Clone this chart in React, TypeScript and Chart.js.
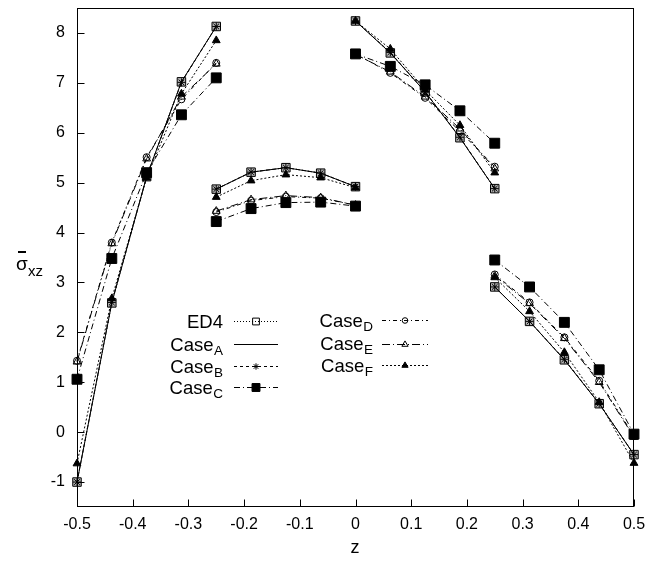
import React, { useEffect, useRef } from 'react';
import { Chart, registerables } from 'chart.js';

Chart.register(...registerables);

// z positions: four layers of five points each
const zValues = [
  -0.5, -0.4375, -0.375, -0.3125, -0.25,
  -0.25, -0.1875, -0.125, -0.0625, 0,
  0, 0.0625, 0.125, 0.1875, 0.25,
  0.25, 0.3125, 0.375, 0.4375, 0.5,
];
const layerSize = 5;

const ed4Values = [
  -1.0, 2.59, 5.12, 7.02, 8.13,
  4.87, 5.21, 5.30, 5.19, 4.92,
  8.24, 7.60, 6.82, 5.90, 4.88,
  2.91, 2.22, 1.45, 0.57, -0.45,
];
const caseAValues = [
  -1.0, 2.59, 5.12, 7.02, 8.13,
  4.87, 5.21, 5.30, 5.19, 4.92,
  8.24, 7.60, 6.82, 5.90, 4.88,
  2.91, 2.22, 1.45, 0.57, -0.45,
];
const caseBValues = [
  -1.0, 2.60, 5.12, 7.01, 8.13,
  4.87, 5.21, 5.30, 5.19, 4.92,
  8.24, 7.61, 6.82, 5.91, 4.88,
  2.91, 2.22, 1.46, 0.57, -0.45,
];
const caseCValues = [
  1.06, 3.48, 5.20, 6.36, 7.10,
  4.22, 4.48, 4.60, 4.61, 4.53,
  7.58, 7.33, 6.96, 6.44, 5.79,
  3.45, 2.91, 2.20, 1.25, -0.04,
];
const caseDValues = [
  1.43, 3.80, 5.51, 6.67, 7.40,
  4.41, 4.64, 4.72, 4.69, 4.55,
  7.58, 7.20, 6.70, 6.03, 5.32,
  3.16, 2.60, 1.90, 1.03, -0.08,
];
const caseEValues = [
  1.41, 3.78, 5.48, 6.72, 7.38,
  4.43, 4.66, 4.74, 4.70, 4.55,
  7.57, 7.22, 6.72, 6.08, 5.28,
  3.13, 2.58, 1.88, 1.00, -0.10,
];
const caseFValues = [
  -0.63, 2.68, 5.10, 6.78, 7.85,
  4.71, 5.04, 5.16, 5.10, 4.90,
  8.24, 7.68, 6.86, 6.15, 5.20,
  3.10, 2.42, 1.60, 0.60, -0.62,
];

const seriesNames = ['ED4', 'Case', 'Case', 'Case', 'Case', 'Case', 'Case'];
const seriesSubs = ['', 'A', 'B', 'C', 'D', 'E', 'F'];

const xTickValues = [-0.5, -0.4, -0.3, -0.2, -0.1, 0, 0.1, 0.2, 0.3, 0.4, 0.5];
const xTickLabels = ['-0.5', '-0.4', '-0.3', '-0.2', '-0.1', '0', '0.1', '0.2', '0.3', '0.4', '0.5'];
const yTickValues = [-1, 0, 1, 2, 3, 4, 5, 6, 7, 8];
const yTickLabels = ['-1', '0', '1', '2', '3', '4', '5', '6', '7', '8'];

const FONT = '"Liberation Sans", Arial, Helvetica, sans-serif';

type Marker = 'rect' | 'rectFilled' | 'star' | 'circle' | 'triangle' | 'triangleFilled' | 'none';

const seriesStyles: { values: number[]; dash: number[]; marker: Marker; radius: number; pointFill: string }[] = [
  { values: ed4Values, dash: [1, 2], marker: 'rect', radius: 6, pointFill: 'rgba(0,0,0,0.3)' },
  { values: caseAValues, dash: [], marker: 'none', radius: 0, pointFill: 'rgba(0,0,0,0)' },
  { values: caseBValues, dash: [3, 3], marker: 'star', radius: 4, pointFill: 'rgba(0,0,0,0)' },
  { values: caseCValues, dash: [6, 3, 1, 3], marker: 'rectFilled', radius: 7, pointFill: '#000' },
  { values: caseDValues, dash: [4, 3, 1, 3], marker: 'circle', radius: 3.5, pointFill: 'rgba(0,0,0,0)' },
  { values: caseEValues, dash: [8, 3, 1, 3], marker: 'triangle', radius: 4.5, pointFill: 'rgba(0,0,0,0)' },
  { values: caseFValues, dash: [2, 2], marker: 'triangleFilled', radius: 4.5, pointFill: '#000' },
];

function toPoints(values: number[]) {
  const pts: { x: number; y: number | null }[] = [];
  values.forEach((v, i) => {
    if (i > 0 && i % layerSize === 0) pts.push({ x: zValues[i], y: null });
    pts.push({ x: zValues[i], y: v });
  });
  return pts;
}

function chartPointStyle(m: Marker): any {
  switch (m) {
    case 'rect':
    case 'rectFilled':
      return 'rect';
    case 'star':
      return 'star';
    case 'circle':
      return 'circle';
    case 'triangle':
    case 'triangleFilled':
      return 'triangle';
    default:
      return false;
  }
}

function drawMarker(ctx: CanvasRenderingContext2D, m: Marker, x: number, y: number, r: number) {
  ctx.save();
  ctx.setLineDash([]);
  ctx.strokeStyle = '#000';
  ctx.fillStyle = '#000';
  ctx.lineWidth = 1;
  ctx.beginPath();
  if (m === 'rect' || m === 'rectFilled') {
    const s = Math.SQRT1_2 * r;
    ctx.rect(x - s, y - s, 2 * s, 2 * s);
    if (m === 'rectFilled') ctx.fill();
    ctx.stroke();
  } else if (m === 'circle') {
    ctx.arc(x, y, r, 0, Math.PI * 2);
    ctx.stroke();
  } else if (m === 'triangle' || m === 'triangleFilled') {
    let rad = 0;
    ctx.moveTo(x + Math.sin(rad) * r, y - Math.cos(rad) * r);
    rad += (2 * Math.PI) / 3;
    ctx.lineTo(x + Math.sin(rad) * r, y - Math.cos(rad) * r);
    rad += (2 * Math.PI) / 3;
    ctx.lineTo(x + Math.sin(rad) * r, y - Math.cos(rad) * r);
    ctx.closePath();
    if (m === 'triangleFilled') ctx.fill();
    ctx.stroke();
  } else if (m === 'star') {
    for (let k = 0; k < 4; k++) {
      const a = (k * Math.PI) / 4;
      ctx.moveTo(x - Math.cos(a) * r, y - Math.sin(a) * r);
      ctx.lineTo(x + Math.cos(a) * r, y + Math.sin(a) * r);
    }
    ctx.stroke();
  }
  ctx.restore();
}

const framePlugin = {
  id: 'frameTicks',
  beforeDatasetsDraw(chart: any) {
    const { ctx, chartArea: a, scales } = chart;
    ctx.save();
    ctx.strokeStyle = '#000';
    ctx.lineWidth = 1;
    ctx.setLineDash([]);
    const L = Math.round(a.left) + 0.5;
    const R = Math.round(a.right) - 0.5;
    const T = Math.round(a.top) + 0.5;
    const B = Math.round(a.bottom) - 0.5;
    ctx.strokeRect(L, T, R - L, B - T);
    ctx.beginPath();
    yTickValues.forEach((v) => {
      const py = Math.round(scales.y.getPixelForValue(v)) + 0.5;
      ctx.moveTo(L, py);
      ctx.lineTo(L + 7, py);
    });
    xTickValues.forEach((v) => {
      const px = Math.round(scales.x.getPixelForValue(v)) + 0.5;
      ctx.moveTo(px, B);
      ctx.lineTo(px, B - 7);
    });
    ctx.stroke();
    ctx.restore();
  },
  afterDraw(chart: any) {
    const { ctx } = chart;
    ctx.save();
    ctx.fillStyle = '#000';
    ctx.textBaseline = 'alphabetic';

    // axis titles
    ctx.font = `18px ${FONT}`;
    ctx.textAlign = 'center';
    ctx.fillText('z', 355, 553);

    ctx.textAlign = 'left';
    ctx.font = `19px ${FONT}`;
    ctx.fillText('σ', 16, 270);
    ctx.fillRect(18, 251, 8, 2);
    ctx.font = `15px ${FONT}`;
    ctx.fillText('xz', 28, 276);

    // legend
    const cols = [
      { textRight: 223, x1: 234, x2: 278, rows: [321, 344, 366, 387], idx: [0, 1, 2, 3] },
      { textRight: 373, x1: 382, x2: 428, rows: [320, 343.5, 365], idx: [4, 5, 6] },
    ];
    const mainSize = 18.5;
    const subSize = 13.5;
    cols.forEach((col) => {
      col.idx.forEach((si, k) => {
        const y = col.rows[k];
        const style = seriesStyles[si];
        const name = seriesNames[si];
        const sub = seriesSubs[si];
        ctx.font = `${subSize}px ${FONT}`;
        const subW = sub ? ctx.measureText(sub).width : 0;
        ctx.font = `${mainSize}px ${FONT}`;
        const mainW = ctx.measureText(name).width;
        const start = col.textRight - subW - mainW - (sub ? 0.5 : 0);
        ctx.textAlign = 'left';
        ctx.fillText(name, start, y + 6.5);
        if (sub) {
          ctx.font = `${subSize}px ${FONT}`;
          ctx.fillText(sub, start + mainW + 0.5, y + 10.5);
        }
        // sample line
        ctx.save();
        ctx.strokeStyle = '#000';
        ctx.lineWidth = 1;
        ctx.setLineDash(style.dash);
        ctx.beginPath();
        ctx.moveTo(col.x1, Math.round(y) + 0.5);
        ctx.lineTo(col.x2, Math.round(y) + 0.5);
        ctx.stroke();
        ctx.restore();
        if (style.marker !== 'none') {
          drawMarker(ctx, style.marker, (col.x1 + col.x2) / 2, Math.round(y) + 0.5, style.radius * 0.8);
        }
      });
    });
    ctx.restore();
  },
};

export default function App() {
  const canvasRef = useRef<HTMLCanvasElement | null>(null);

  useEffect(() => {
    const canvas = canvasRef.current;
    if (!canvas) return;
    const datasets = seriesStyles.map((s, i) => ({
      label: seriesNames[i] + seriesSubs[i],
      data: toPoints(s.values),
      borderColor: '#000',
      borderWidth: 1,
      borderDash: s.dash,
      tension: 0,
      spanGaps: false,
      fill: false,
      clip: false as any,
      pointStyle: chartPointStyle(s.marker),
      pointRadius: s.marker === 'none' ? 0 : s.radius,
      pointBorderWidth: 1,
      pointBorderColor: '#000',
      pointBackgroundColor: s.pointFill,
    }));

    const chart = new Chart(canvas, {
      type: 'line',
      data: { datasets },
      options: {
        responsive: false,
        animation: false,
        events: [],
        layout: { padding: { left: 0, top: 5, right: 33, bottom: 0 } },
        plugins: {
          legend: { display: false },
          tooltip: { enabled: false },
        },
        scales: {
          x: {
            type: 'linear',
            min: -0.5,
            max: 0.5,
            grid: { display: false, drawTicks: false },
            border: { display: false },
            afterBuildTicks: (scale: any) => {
              scale.ticks = xTickValues.map((v) => ({ value: v }));
            },
            afterFit: (scale: any) => {
              scale.height = 56;
              scale.paddingLeft = 0;
              scale.paddingRight = 0;
            },
            ticks: {
              padding: 8,
              maxRotation: 0,
              autoSkip: false,
              color: '#000',
              font: { family: FONT, size: 16 },
              callback: (_v: any, i: number) => xTickLabels[i],
            },
          },
          y: {
            type: 'linear',
            min: -1.5,
            max: 8.5,
            grid: { display: false, drawTicks: false },
            border: { display: false },
            afterBuildTicks: (scale: any) => {
              scale.ticks = yTickValues.map((v) => ({ value: v }));
            },
            afterFit: (scale: any) => {
              scale.width = 77;
              scale.paddingTop = 0;
              scale.paddingBottom = 0;
            },
            ticks: {
              padding: 12,
              autoSkip: false,
              color: '#000',
              font: { family: FONT, size: 16 },
              callback: (_v: any, i: number) => yTickLabels[i],
            },
          },
        },
      },
      plugins: [framePlugin],
    });
    return () => chart.destroy();
  }, []);

  return (
    <div style={{ position: 'absolute', left: 0, top: 0, width: 667, height: 563, background: '#fff' }}>
      <canvas ref={canvasRef} width={667} height={563} style={{ display: 'block' }} />
    </div>
  );
}
